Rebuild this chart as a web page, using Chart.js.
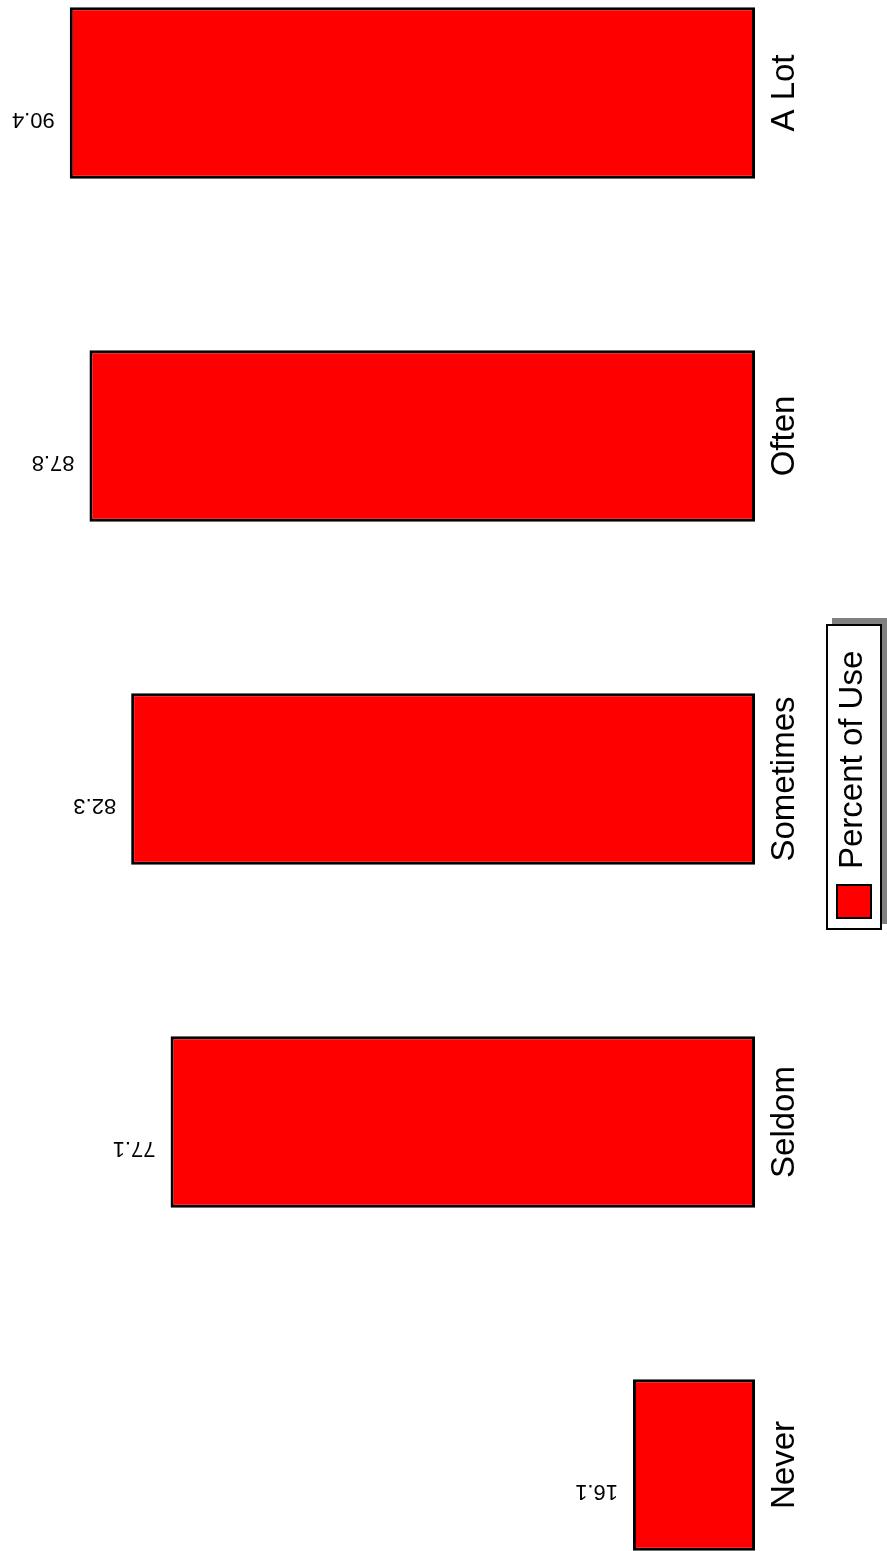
<!DOCTYPE html>
<html>
<head>
<meta charset="utf-8">
<script src="https://cdn.jsdelivr.net/npm/chart.js@4"></script>
<style>
  html, body { margin: 0; padding: 0; background: #fff; }
  #wrap { position: relative; width: 887px; height: 1551px; overflow: hidden; background: #fff; }
  #useChart { position: absolute; left: -3px; top: -100px; }
</style>
</head>
<body>
<div id="wrap">
  <canvas id="useChart" width="890" height="1800"></canvas>
</div>
<script>
// frequency categories, top to bottom
const categories = ['A Lot', 'Often', 'Sometimes', 'Seldom', 'Never'];
// percent of use per category
const percentOfUse = [90.4, 87.8, 82.3, 77.1, 16.1];
const seriesName = 'Percent of Use';

const FONT = '"Liberation Sans", Arial, Helvetica, sans-serif';

// value labels, turned upside down, just past the end of each bar
const valueLabels = {
    id: 'valueLabels',
    afterDatasetsDraw(chart) {
        const ctx = chart.ctx;
        const meta = chart.getDatasetMeta(0);
        ctx.save();
        ctx.fillStyle = '#000';
        ctx.font = '22px ' + FONT;
        ctx.textAlign = 'left';
        ctx.textBaseline = 'alphabetic';
        meta.data.forEach((bar, i) => {
            ctx.save();
            ctx.translate(bar.x - 15, bar.y + 20);
            ctx.rotate(Math.PI);
            ctx.fillText(percentOfUse[i].toFixed(1), 0, 0);
            ctx.restore();
        });
        ctx.restore();
    }
};

// category names, reading upwards, right of the bars
const categoryLabels = {
    id: 'categoryLabels',
    afterDraw(chart) {
        const ctx = chart.ctx;
        const yScale = chart.scales.y;
        const x = chart.chartArea.right + 39;
        ctx.save();
        ctx.fillStyle = '#000';
        ctx.font = '33px ' + FONT;
        ctx.textAlign = 'center';
        ctx.textBaseline = 'alphabetic';
        categories.forEach((c, i) => {
            ctx.save();
            ctx.translate(x, yScale.getPixelForValue(i));
            ctx.rotate(-Math.PI / 2);
            ctx.fillText(c, 0, 0);
            ctx.restore();
        });
        ctx.restore();
    }
};

// boxed legend with a grey drop shadow, turned on its side
const sideLegend = {
    id: 'sideLegend',
    afterDraw(chart) {
        const ctx = chart.ctx;
        const ds = chart.data.datasets[0];
        const bx = chart.chartArea.right + 71, by = 724, bw = 56, bh = 306;
        ctx.save();
        ctx.fillStyle = '#808080';
        ctx.fillRect(bx + 6, by - 6, bw, bh);
        ctx.fillStyle = '#fff';
        ctx.fillRect(bx, by, bw, bh);
        ctx.lineWidth = 2;
        ctx.strokeStyle = '#000';
        ctx.strokeRect(bx + 1, by + 1, bw - 2, bh - 2);

        // swatch
        ctx.fillStyle = ds.backgroundColor;
        ctx.fillRect(bx + 10, by + 260, 36, 35);
        ctx.strokeRect(bx + 11, by + 261, 34, 33);

        // label
        ctx.fillStyle = '#000';
        ctx.font = '33px ' + FONT;
        ctx.textAlign = 'left';
        ctx.textBaseline = 'alphabetic';
        ctx.translate(bx + 36, by + 245);
        ctx.rotate(-Math.PI / 2);
        ctx.fillText(ds.label, 0, 0);
        ctx.restore();
    }
};

const ctx = document.getElementById('useChart').getContext('2d');

new Chart(ctx, {
    type: 'bar',
    data: {
        labels: categories,
        datasets: [{
            label: seriesName,
            data: percentOfUse,
            backgroundColor: '#ff0000',
            borderColor: '#000000',
            borderWidth: 3,
            borderSkipped: false,
            categoryPercentage: 1.0,
            barPercentage: 0.5
        }]
    },
    options: {
        indexAxis: 'y',
        responsive: false,
        devicePixelRatio: 1,
        animation: false,
        layout: {
            padding: { left: 0, right: 132, top: 21.5, bottom: 63.5 }
        },
        scales: {
            x: {
                display: false,
                reverse: true,
                min: 0,
                max: 100
            },
            y: {
                display: false,
                offset: true
            }
        },
        plugins: {
            legend: { display: false },
            title: { display: false },
            tooltip: { enabled: false }
        }
    },
    plugins: [valueLabels, categoryLabels, sideLegend]
});
</script>
</body>
</html>
